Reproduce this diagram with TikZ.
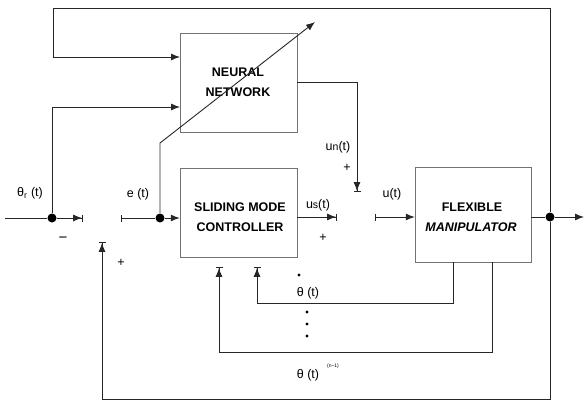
\documentclass[tikz,border=0pt]{standalone}
\usepackage{fontspec}
\setmainfont{Liberation Sans}
\usetikzlibrary{arrows.meta}
\begin{document}
\begin{tikzpicture}[x=1pt,y=-1pt,
  ln/.style={line width=0.9pt, draw=black!85},
  arr/.style={ln, -{Latex[length=9pt,width=7pt]}},
  arrbar/.style={ln, -{Latex[length=9pt,width=7pt]Bar[width=7pt]}},
  bararr/.style={ln, {Bar[width=7pt]}-{Latex[length=9pt,width=7pt]}},
  box/.style={draw=black!55, line width=0.5pt, inner sep=0pt},
  jdot/.style={circle, fill=black, inner sep=0pt, minimum size=9pt},
  lbl/.style={font=\fontsize{12.5}{14}\selectfont, inner sep=0pt},
  ttl/.style={font=\fontsize{12.5}{20}\selectfont\bfseries, align=center, inner sep=0pt}]
\useasboundingbox (0,0) rectangle (585,401);

% blocks
\node[box, minimum width=117pt, minimum height=99pt] (nn) at (238.5,82.5) {};
\node[ttl] (nntext) at (238,82) {NEURAL\\NETWORK};
\node[box, minimum width=117pt, minimum height=89pt] (smc) at (238.5,212.5) {};
\node[ttl] (smctext) at (240,217.5) {SLIDING MODE\\CONTROLLER};
\node[box, minimum width=116pt, minimum height=95pt] (fm) at (473,214.5) {};
\node[ttl] (fmtext1) at (472,207) {FLEXIBLE};
\node[ttl, font=\fontsize{12.5}{20}\selectfont\bfseries\itshape] (fmtext2) at (471,227) {MANIPULATOR};

% junction dots
\node[jdot] (d1) at (52,218) {};
\node[jdot] (d2) at (160,218) {};
\node[jdot] (d3) at (550,217) {};

% coordinates
\coordinate (in) at (5,218);
\coordinate (s1w) at (83,218);
\coordinate (s1e) at (121,218);
\coordinate (s1s) at (102,242);
\coordinate (nnin1) at (180,57);
\coordinate (nnin2) at (180,107);
\coordinate (tl) at (53,8);
\coordinate (bl) at (102,399);
\coordinate (bend) at (160,143);
\coordinate (adapt) at (315,22);
\coordinate (s2n) at (357,192);
\coordinate (s2w) at (337,217);
\coordinate (s2e) at (375,217);
\coordinate (out) at (584,217);
\coordinate (fb1) at (453,262);
\coordinate (fb2) at (492,262);
\coordinate (f1s) at (257,267);
\coordinate (f2s) at (219,267);

% main path
\draw[ln] (in) -- (d1);
\draw[arrbar] (d1) -- (s1w);
\draw[ln, {Bar[width=7pt]}-] (s1e) -- (d2);
\draw[arr] (d2) -- (smc.west |- d2);
\draw[arr] (d1) |- (nnin2);
\draw[arr] (d2) -- (bend) -- (adapt);
\draw[arrbar] (smc.east |- s2w) -- (s2w);
\draw[bararr] (s2e) -- (fm.west |- s2e);
\draw[arrbar] (nn.east) -| (s2n);
\draw[ln] (fm.east |- d3) -- (d3);
\draw[arr] (d3) -- (out);
% outer loops
\draw[arr] (d3) |- (tl) |- (nnin1);
\draw[arrbar] (d3) |- (bl) -- (s1s);
% state feedback
\draw[arrbar] (fb1) -- ++(0,41) -| (f1s);
\draw[arrbar] (fb2) -- ++(0,90) -| (f2s);

% labels
\node[lbl] (lthr) at (30,193) {θ\textsubscript{r} (t)};
\node[lbl] (le) at (138,194) {e (t)};
\node[lbl, font=\fontsize{15}{15}\selectfont] (lminus) at (63,240) {−};
\node[lbl] (lplus1) at (121,263) {+};
\node[lbl] (lus) at (318,205) {u{\fontsize{10.5}{12}\selectfont s}(t)};
\node[lbl] (lplus2) at (323,238) {+};
\node[lbl] (lun) at (338,147) {u{\fontsize{10.5}{12}\selectfont n}(t)};
\node[lbl] (lplus3) at (347,168) {+};
\node[lbl] (lu) at (392,194) {u(t)};
\node[lbl] (lthd) at (308,293) {θ (t)};
\fill (299,275) circle (1.7pt);
\fill (307,312) circle (1.7pt);
\fill (307,324) circle (1.7pt);
\fill (307,336) circle (1.7pt);
\node[lbl] (lthn) at (308,375) {θ (t)};
\node[lbl, font=\fontsize{5}{6}\selectfont] (lthnsup) at (333,366) {(n−1)};
\end{tikzpicture}
\end{document}
